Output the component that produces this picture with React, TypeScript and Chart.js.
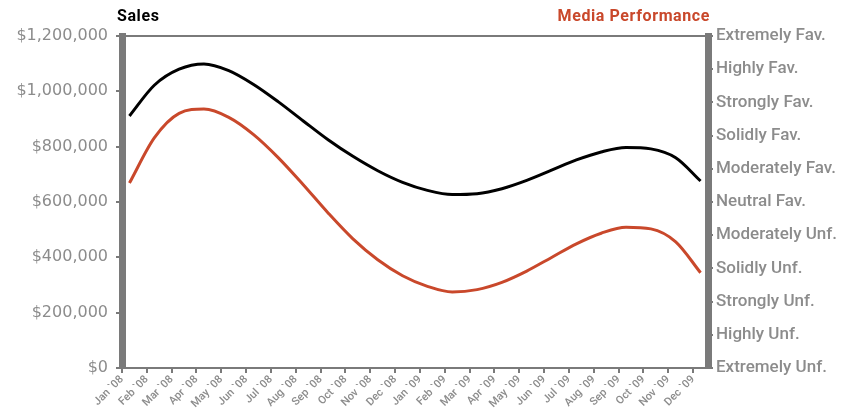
import React, { useEffect, useRef } from "react";
import { Chart, registerables } from "chart.js";

Chart.register(...registerables);

const months = [
  "Jan `08", "Feb `08", "Mar `08", "Apr `08", "May `08", "Jun `08",
  "Jul `08", "Aug `08", "Sep `08", "Oct `08", "Nov `08", "Dec `08",
  "Jan `09", "Feb `09", "Mar `09", "Apr `09", "May `09", "Jun `09",
  "Jul `09", "Aug `09", "Sep `09", "Oct `09", "Nov `09", "Dec `09",
];

const sales = [
  911000, 1022000, 1080000, 1099000, 1075000, 1025000, 962000, 893000,
  825000, 765000, 713000, 671000, 642000, 627000, 630000, 648000,
  678000, 715000, 752000, 781000, 797000, 792000, 760000, 676000,
];

const media = [
  5.57, 6.93, 7.67, 7.8, 7.55, 7.03, 6.33, 5.52, 4.67, 3.89, 3.26, 2.78,
  2.46, 2.29, 2.36, 2.58, 2.92, 3.33, 3.74, 4.06, 4.24, 4.19, 3.8, 2.87,
];

const ratingLabels = [
  "Extremely Unf.", "Highly Unf.", "Strongly Unf.", "Solidly Unf.",
  "Moderately Unf.", "Neutral Fav.", "Moderately Fav.", "Solidly Fav.",
  "Strongly Fav.", "Highly Fav.", "Extremely Fav.",
];

const dayOffset = 0.3;
const AXIS = "#7a7a7a";
const TEXT = "#8c8c8c";
const RED = "#c9482b";
const FONT = "Roboto, 'DejaVu Sans', sans-serif";

const titlesPlugin = {
  id: "titles",
  afterDraw(chart: any) {
    const { ctx, chartArea } = chart;
    ctx.save();
    ctx.font = `bold 16px ${FONT}`;
    try { ctx.letterSpacing = "0.6px"; } catch (e) {}
    ctx.textBaseline = "alphabetic";
    ctx.fillStyle = "#000";
    ctx.textAlign = "left";
    ctx.fillText("Sales", chartArea.left - 5, 21);
    ctx.fillStyle = RED;
    ctx.textAlign = "right";
    ctx.fillText("Media Performance", chartArea.right + 2, 21);
    ctx.restore();
  },
};

export default function App() {
  const ref = useRef<HTMLCanvasElement>(null);
  useEffect(() => {
    document.body.style.margin = "0";
    const chart = new Chart(ref.current!, {
      type: "line",
      data: {
        datasets: [
          {
            label: "Sales",
            data: sales.map((v, i) => ({ x: i + dayOffset, y: v })),
            borderColor: "#000",
            borderWidth: 3,
            pointRadius: 0,
            cubicInterpolationMode: "monotone",
            yAxisID: "y",
          },
          {
            label: "Media Performance",
            data: media.map((v, i) => ({ x: i + dayOffset, y: v })),
            borderColor: RED,
            borderWidth: 3,
            pointRadius: 0,
            cubicInterpolationMode: "monotone",
            yAxisID: "y1",
          },
        ],
      },
      options: {
        animation: false,
        responsive: false,
        layout: { padding: { top: 36, right: 0, left: 0, bottom: 0 } },
        plugins: { legend: { display: false }, tooltip: { enabled: false } },
        scales: {
          x: {
            type: "linear",
            min: 0,
            max: 23.6,
            afterBuildTicks(axis: any) {
              axis.ticks = months.map((_, i) => ({ value: i }));
            },
            afterFit(axis: any) {
              axis.height = 45;
            },
            ticks: {
              autoSkip: false,
              maxRotation: 45,
              minRotation: 45,
              color: TEXT,
              padding: 0,
              font: { family: FONT, size: 11, weight: "500" },
              callback: (v: any) => months[v] ?? "",
            },
            grid: { drawOnChartArea: false, color: AXIS, tickLength: 5, lineWidth: 2 },
            border: { color: AXIS, width: 2 },
          },
          y: {
            position: "left",
            min: 0,
            max: 1200000,
            afterFit(axis: any) {
              axis.width = 122;
            },
            ticks: {
              stepSize: 200000,
              color: TEXT,
              padding: 8,
              font: { family: "'DejaVu Sans', sans-serif", size: 16 },
              callback: (v: any) => "$" + Number(v).toLocaleString("en-US"),
            },
            grid: {
              color: (c: any) => (c.tick && c.tick.value === 1200000 ? AXIS : "rgba(0,0,0,0)"),
              tickColor: AXIS,
              lineWidth: 2,
              tickLength: 6,
            },
            border: { color: AXIS, width: 7 },
          },
          y1: {
            position: "right",
            min: 0,
            max: 10,
            afterFit(axis: any) {
              axis.width = 141;
            },
            ticks: {
              stepSize: 1,
              color: TEXT,
              padding: 3,
              font: { family: FONT, size: 17, weight: "500" },
              callback: (v: any) => ratingLabels[v] ?? "",
            },
            grid: { drawOnChartArea: false, color: AXIS, lineWidth: 2, tickLength: 5 },
            border: { color: AXIS, width: 7 },
          },
        },
      },
      plugins: [titlesPlugin],
    } as any);
    return () => chart.destroy();
  }, []);
  return (
    <div style={{ width: 849, height: 413 }}>
      <canvas ref={ref} width={849} height={413} style={{ display: "block" }} />
    </div>
  );
}
